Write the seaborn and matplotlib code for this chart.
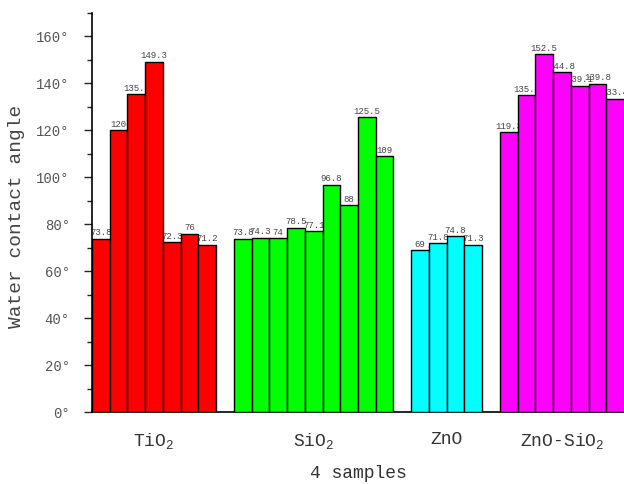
import pandas as pd
import numpy as np
import matplotlib
matplotlib.use("Agg")
import matplotlib.pyplot as plt
from matplotlib.ticker import MultipleLocator, FuncFormatter
import seaborn as sns

# values
samples = ['TiO$_2$', 'SiO$_2$', 'ZnO', 'ZnO-SiO$_2$']
tio2 = [73.8, 120, 135.3, 149.3, 72.3, 76, 71.2]
sio2 = [73.8, 74.3, 74, 78.5, 77.1, 96.8, 88, 125.5, 109]
zno = [69, 71.8, 74.8, 71.3]
zno_sio2 = [119.3, 135.1, 152.5, 144.8, 139.1, 139.8, 133.4]
colors = ['#ff0000', '#00ff00', '#00ffff', '#ff00ff']

sns.set_style('ticks')
plt.rcParams['font.family'] = ['Liberation Mono', 'DejaVu Sans']
plt.rcParams['mathtext.fontset'] = 'custom'
plt.rcParams['mathtext.rm'] = 'Liberation Mono'
plt.rcParams['mathtext.it'] = 'Liberation Mono'
plt.rcParams['mathtext.default'] = 'regular'

# one slot per bar, one empty slot between groups
rows = []
centers = []
start = 0
for name, vals in zip(samples, [tio2, sio2, zno, zno_sio2]):
    for i, v in enumerate(vals):
        rows.append({'sample': name, 'pos': start + i + 0.5, 'angle': v})
    centers.append(start + len(vals) / 2)
    start += len(vals) + 1
df = pd.DataFrame(rows)

fig = plt.figure(figsize=(6.24, 4.84), dpi=100)
ax = fig.add_axes([92 / 624, 72 / 484, 532 / 624, 399 / 484])

sns.barplot(data=df, x='pos', y='angle', hue='sample', hue_order=samples,
            palette=colors, native_scale=True, width=1, dodge=False,
            saturation=1, errorbar=None, edgecolor='black', linewidth=1,
            legend=False, ax=ax)
for p in ax.patches:
    p.set_zorder(3)

# value labels sit under the bars so neighbours clip them
for _, r in df.iterrows():
    ax.text(r['pos'], r['angle'] + 0.6, f"{r['angle']:g}", ha='center',
            va='bottom', fontsize=6.5, color='#444444', zorder=2)

ax.set_xlim(0, start - 1)
ax.set_ylim(0, 170)
ax.yaxis.set_major_locator(MultipleLocator(20))
ax.yaxis.set_minor_locator(MultipleLocator(10))
ax.yaxis.set_major_formatter(FuncFormatter(lambda v, p: f'{v:g}°'))
ax.set_xticks(centers)
ax.set_xticklabels(samples)
ax.tick_params(axis='y', which='major', length=6, width=1, pad=10,
               labelsize=10, labelcolor='#555555')
ax.tick_params(axis='y', which='minor', length=3.5, width=1)
ax.tick_params(axis='x', length=0, pad=14, labelsize=13, labelcolor='#333333')

ax.set_xlabel('4 samples', fontsize=13, color='#333333', labelpad=10)
ax.set_ylabel('Water contact angle', fontsize=14, color='#444444')
ax.yaxis.set_label_coords(-0.125, 0.49)

sns.despine(ax=ax)
for s in ['left', 'bottom']:
    ax.spines[s].set_color('black')
    ax.spines[s].set_linewidth(1.2)

plt.savefig('out.png', dpi=100)
